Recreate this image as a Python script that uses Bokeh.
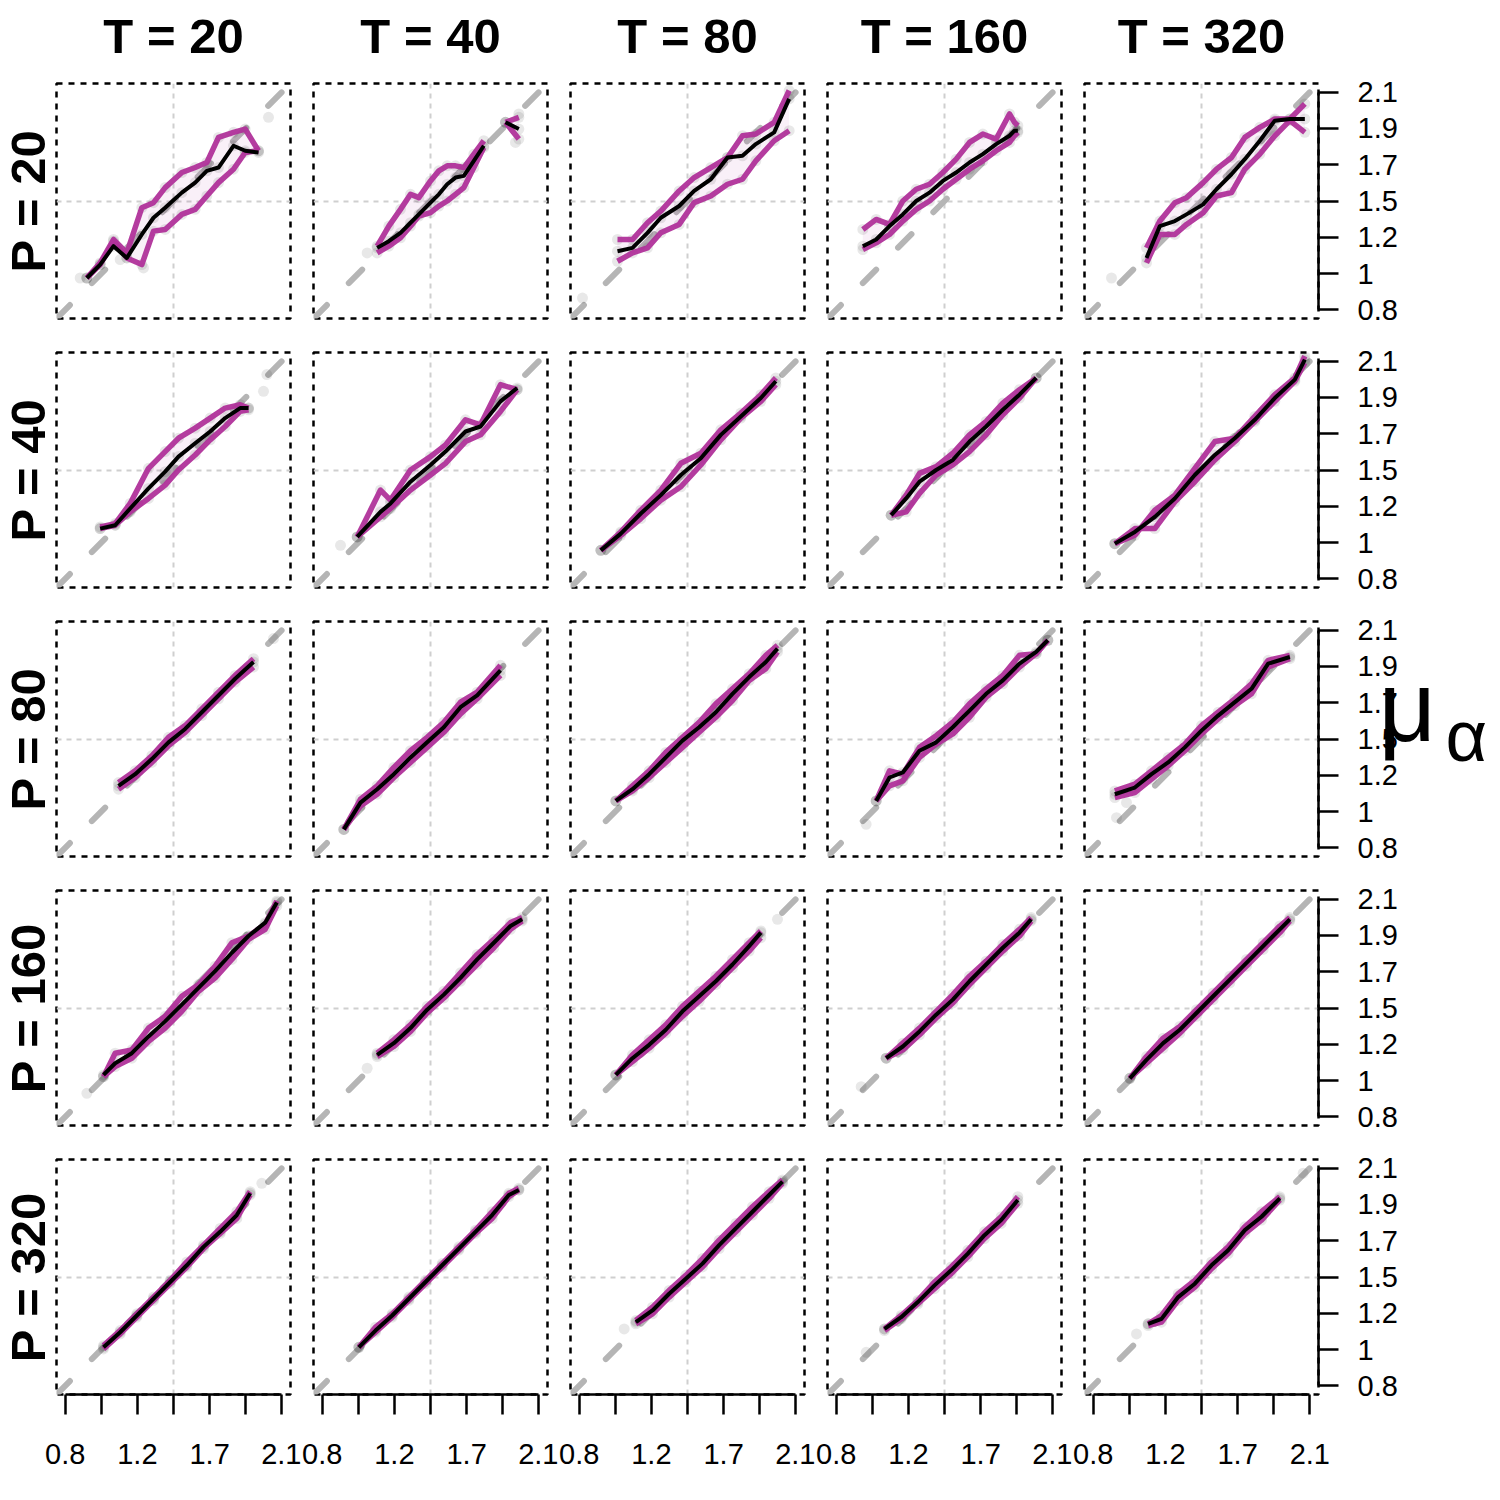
import math
from bokeh.plotting import figure
from bokeh.models import Range1d, LinearAxis, FixedTicker, Slope, GridBox
from bokeh.core.properties import value
from bokeh.embed import file_html
from bokeh.resources import INLINE

NAN = float("nan")

# ---------------- labels / ticks ----------------
T_LABELS = ["T = 20", "T = 40", "T = 80", "T = 160", "T = 320"]
P_LABELS = ["P = 20", "P = 40", "P = 80", "P = 160", "P = 320"]
AXIS_TICKS = [0.8, 0.8 + 1.3 / 6, 0.8 + 2.6 / 6, 1.45, 0.8 + 5.2 / 6, 0.8 + 6.5 / 6, 2.1]
Y_TICK_LABELS = ["0.8", "1", "1.2", "1.5", "1.7", "1.9", "2.1"]
X_TICK_LABELS = ["0.8", "", "1.2", "", "1.7", "", "2.1"]
GRID_AT = [1.45]
AXIS_SYMBOL = "μ"
AXIS_SUBSCRIPT = "α"

# ---------------- data: P = 20 ----------------
X_P20_T20 = [0.93, 1.01, 1.09, 1.17, 1.26, 1.33, 1.40, 1.50, 1.58, 1.65, 1.72, 1.81, 1.88, 1.96]
HI_P20_T20 = [0.99, 1.08, 1.22, 1.14, 1.41, 1.44, 1.53, 1.62, 1.65, 1.68, 1.83, 1.86, 1.88, 1.75]
MED_P20_T20 = [0.99, 1.07, 1.18, 1.11, 1.25, 1.35, 1.41, 1.50, 1.56, 1.63, 1.65, 1.78, 1.75, 1.74]
LO_P20_T20 = [0.99, 1.07, 1.21, 1.11, 1.07, 1.27, 1.28, 1.37, 1.40, 1.48, 1.56, 1.64, 1.74, 1.75]
PX_P20_T20 = [0.89, 2.02, 1.27, 1.13]
PY_P20_T20 = [0.99, 1.95, 1.05, 1.10]

X_P20_T40 = [1.13, 1.20, 1.27, 1.33, 1.38, 1.45, 1.50, 1.55, 1.60, 1.65, 1.71, 1.77, NAN, 1.90, 1.98]
HI_P20_T40 = [1.18, 1.30, 1.40, 1.49, 1.47, 1.57, 1.63, 1.66, 1.66, 1.65, 1.73, 1.81, NAN, 1.92, 1.95]
MED_P20_T40 = [1.17, 1.21, 1.26, 1.32, 1.37, 1.44, 1.49, 1.55, 1.59, 1.60, 1.69, 1.78, NAN, 1.92, 1.88]
LO_P20_T40 = [1.14, 1.18, 1.23, 1.30, 1.36, 1.38, 1.42, 1.45, 1.49, 1.53, 1.65, 1.77, NAN, 1.92, 1.82]
PX_P20_T40 = [1.07, 1.98, 1.96]
PY_P20_T40 = [1.14, 1.97, 1.80]

X_P20_T80 = [1.03, 1.12, 1.21, 1.29, 1.40, 1.49, 1.59, 1.69, 1.78, 1.86, 1.97, 2.06]
HI_P20_T80 = [1.22, 1.22, 1.32, 1.39, 1.51, 1.59, 1.65, 1.71, 1.84, 1.85, 1.92, 2.11]
MED_P20_T80 = [1.15, 1.17, 1.26, 1.35, 1.42, 1.51, 1.58, 1.71, 1.72, 1.79, 1.86, 2.06]
LO_P20_T80 = [1.09, 1.14, 1.17, 1.26, 1.31, 1.44, 1.48, 1.55, 1.58, 1.69, 1.81, 1.87]
PX_P20_T80 = [0.82]
PY_P20_T80 = [0.87]

X_P20_T160 = [0.96, 1.04, 1.12, 1.20, 1.28, 1.36, 1.44, 1.52, 1.60, 1.68, 1.76, 1.84, 1.87, 1.89]
HI_P20_T160 = [1.28, 1.34, 1.31, 1.45, 1.52, 1.55, 1.62, 1.70, 1.80, 1.85, 1.82, 1.97, 1.92, 1.90]
MED_P20_T160 = [1.18, 1.22, 1.30, 1.37, 1.45, 1.50, 1.57, 1.62, 1.68, 1.73, 1.79, 1.84, 1.87, 1.87]
LO_P20_T160 = [1.16, 1.20, 1.25, 1.33, 1.40, 1.45, 1.52, 1.58, 1.64, 1.69, 1.75, 1.80, 1.84, 1.86]
PX_P20_T160 = []
PY_P20_T160 = []

X_P20_T320 = [1.12, 1.20, 1.29, 1.36, 1.46, 1.54, 1.63, 1.71, 1.80, 1.89, 1.98, 2.07]
HI_P20_T320 = [1.17, 1.33, 1.44, 1.47, 1.56, 1.64, 1.71, 1.83, 1.89, 1.94, 1.94, 2.03]
MED_P20_T320 = [1.11, 1.30, 1.33, 1.37, 1.43, 1.52, 1.61, 1.70, 1.81, 1.93, 1.94, 1.94]
LO_P20_T320 = [1.08, 1.25, 1.25, 1.31, 1.38, 1.48, 1.50, 1.64, 1.73, 1.84, 1.93, 1.86]
PX_P20_T320 = [0.91]
PY_P20_T320 = [0.99]

# ---------------- data: P = 40 ----------------
X_P40_T20 = [1.01, 1.10, 1.19, 1.30, 1.40, 1.48, 1.58, 1.67, 1.76, 1.85, 1.90]
HI_P40_T20 = [1.11, 1.13, 1.25, 1.46, 1.56, 1.64, 1.70, 1.76, 1.82, 1.84, 1.82]
MED_P40_T20 = [1.10, 1.12, 1.22, 1.34, 1.44, 1.53, 1.61, 1.68, 1.76, 1.82, 1.82]
LO_P40_T20 = [1.10, 1.12, 1.20, 1.28, 1.36, 1.45, 1.54, 1.63, 1.71, 1.80, 1.81]
PX_P40_T20 = [2.01, 1.99]
PY_P40_T20 = [2.02, 1.92]

X_P40_T40 = [1.01, 1.15, 1.21, 1.33, 1.45, 1.54, 1.66, 1.75, 1.87, 1.97]
HI_P40_T40 = [1.05, 1.33, 1.27, 1.45, 1.53, 1.60, 1.75, 1.72, 1.96, 1.93]
MED_P40_T40 = [1.05, 1.20, 1.25, 1.38, 1.48, 1.56, 1.68, 1.71, 1.86, 1.94]
LO_P40_T40 = [1.05, 1.17, 1.22, 1.33, 1.42, 1.49, 1.62, 1.66, 1.80, 1.93]
PX_P40_T40 = [0.91]
PY_P40_T40 = [1.00]

X_P40_T80 = [0.93, 1.05, 1.17, 1.29, 1.41, 1.53, 1.65, 1.77, 1.89, 1.98]
HI_P40_T80 = [0.97, 1.08, 1.21, 1.33, 1.49, 1.55, 1.69, 1.79, 1.90, 2.00]
MED_P40_T80 = [0.97, 1.07, 1.19, 1.30, 1.42, 1.52, 1.66, 1.77, 1.88, 1.98]
LO_P40_T80 = [0.97, 1.06, 1.16, 1.27, 1.35, 1.48, 1.63, 1.76, 1.86, 1.96]
PX_P40_T80 = []
PY_P40_T80 = []

X_P40_T160 = [1.13, 1.22, 1.30, 1.40, 1.50, 1.60, 1.70, 1.80, 1.90, 2.00]
HI_P40_T160 = [1.18, 1.30, 1.43, 1.47, 1.55, 1.66, 1.74, 1.85, 1.93, 2.00]
MED_P40_T160 = [1.18, 1.28, 1.38, 1.45, 1.51, 1.62, 1.71, 1.81, 1.90, 2.00]
LO_P40_T160 = [1.18, 1.20, 1.31, 1.42, 1.48, 1.56, 1.66, 1.78, 1.88, 2.00]
PX_P40_T160 = []
PY_P40_T160 = []

X_P40_T320 = [0.93, 1.05, 1.17, 1.29, 1.41, 1.53, 1.65, 1.77, 1.89, 2.01, 2.07]
HI_P40_T320 = [1.01, 1.06, 1.21, 1.30, 1.46, 1.62, 1.64, 1.77, 1.90, 2.00, 2.13]
MED_P40_T320 = [1.01, 1.08, 1.17, 1.28, 1.42, 1.54, 1.64, 1.75, 1.88, 1.99, 2.11]
LO_P40_T320 = [1.01, 1.10, 1.10, 1.26, 1.38, 1.51, 1.62, 1.74, 1.86, 1.98, 2.09]
PX_P40_T320 = []
PY_P40_T320 = []

# ---------------- data: P = 80 ----------------
X_P80_T20 = [1.12, 1.22, 1.32, 1.42, 1.52, 1.62, 1.72, 1.82, 1.93]
HI_P80_T20 = [1.19, 1.26, 1.35, 1.46, 1.53, 1.63, 1.73, 1.83, 1.93]
MED_P80_T20 = [1.17, 1.24, 1.33, 1.43, 1.51, 1.61, 1.71, 1.81, 1.91]
LO_P80_T20 = [1.15, 1.22, 1.31, 1.41, 1.49, 1.59, 1.69, 1.79, 1.88]
PX_P80_T20 = [2.05]
PY_P80_T20 = [2.05]

X_P80_T40 = [0.93, 1.03, 1.13, 1.23, 1.33, 1.43, 1.53, 1.63, 1.73, 1.87]
HI_P80_T40 = [0.91, 1.09, 1.17, 1.28, 1.38, 1.46, 1.55, 1.67, 1.73, 1.89]
MED_P80_T40 = [0.91, 1.07, 1.15, 1.24, 1.34, 1.43, 1.52, 1.64, 1.71, 1.86]
LO_P80_T40 = [0.91, 1.05, 1.12, 1.22, 1.31, 1.40, 1.49, 1.60, 1.69, 1.83]
PX_P80_T40 = []
PY_P80_T40 = []

X_P80_T80 = [1.02, 1.12, 1.22, 1.32, 1.42, 1.52, 1.62, 1.72, 1.82, 1.92, 1.99]
HI_P80_T80 = [1.08, 1.17, 1.26, 1.37, 1.46, 1.55, 1.66, 1.75, 1.84, 1.95, 2.01]
MED_P80_T80 = [1.08, 1.15, 1.24, 1.34, 1.44, 1.52, 1.61, 1.72, 1.82, 1.91, 1.99]
LO_P80_T80 = [1.08, 1.14, 1.22, 1.31, 1.40, 1.49, 1.58, 1.68, 1.80, 1.87, 1.97]
PX_P80_T80 = []
PY_P80_T80 = []

X_P80_T160 = [1.04, 1.12, 1.20, 1.30, 1.40, 1.50, 1.60, 1.70, 1.80, 1.90, 2.00, 2.07]
HI_P80_T160 = [1.08, 1.26, 1.24, 1.40, 1.47, 1.55, 1.66, 1.75, 1.83, 1.95, 1.96, 2.04]
MED_P80_T160 = [1.08, 1.22, 1.25, 1.38, 1.43, 1.52, 1.62, 1.72, 1.80, 1.90, 1.97, 2.04]
LO_P80_T160 = [1.08, 1.17, 1.20, 1.34, 1.42, 1.48, 1.58, 1.70, 1.78, 1.88, 1.96, 2.04]
PX_P80_T160 = [0.98]
PY_P80_T160 = [0.94]

X_P80_T320 = [0.93, 1.05, 1.15, 1.25, 1.35, 1.45, 1.55, 1.65, 1.75, 1.85, 1.98]
HI_P80_T320 = [1.14, 1.18, 1.26, 1.34, 1.42, 1.53, 1.61, 1.69, 1.78, 1.92, 1.95]
MED_P80_T320 = [1.12, 1.16, 1.24, 1.31, 1.40, 1.50, 1.59, 1.67, 1.75, 1.90, 1.94]
LO_P80_T320 = [1.10, 1.13, 1.21, 1.29, 1.38, 1.48, 1.57, 1.65, 1.72, 1.88, 1.93]
PX_P80_T320 = [0.94, 1.00]
PY_P80_T320 = [0.98, 1.07]

# ---------------- data: P = 160 ----------------
X_P160_T20 = [1.03, 1.10, 1.20, 1.30, 1.40, 1.50, 1.60, 1.70, 1.80, 1.90, 2.00, 2.07]
HI_P160_T20 = [1.04, 1.18, 1.20, 1.33, 1.40, 1.52, 1.59, 1.70, 1.84, 1.88, 1.95, 2.09]
MED_P160_T20 = [1.05, 1.12, 1.18, 1.28, 1.37, 1.47, 1.57, 1.67, 1.78, 1.88, 1.96, 2.08]
LO_P160_T20 = [1.04, 1.10, 1.15, 1.25, 1.33, 1.43, 1.55, 1.63, 1.74, 1.86, 1.92, 2.06]
PX_P160_T20 = [0.93]
PY_P160_T20 = [0.94]

X_P160_T40 = [1.13, 1.23, 1.33, 1.43, 1.53, 1.63, 1.73, 1.83, 1.93, 2.00]
HI_P160_T40 = [1.18, 1.26, 1.35, 1.46, 1.55, 1.66, 1.77, 1.86, 1.96, 1.99]
MED_P160_T40 = [1.17, 1.24, 1.33, 1.44, 1.53, 1.63, 1.74, 1.84, 1.94, 1.98]
LO_P160_T40 = [1.16, 1.22, 1.31, 1.42, 1.51, 1.61, 1.71, 1.81, 1.92, 1.97]
PX_P160_T40 = [1.07]
PY_P160_T40 = [1.09]

X_P160_T80 = [1.02, 1.12, 1.22, 1.32, 1.42, 1.52, 1.62, 1.72, 1.82, 1.89]
HI_P160_T80 = [1.05, 1.17, 1.26, 1.35, 1.46, 1.55, 1.64, 1.74, 1.84, 1.91]
MED_P160_T80 = [1.05, 1.15, 1.23, 1.32, 1.43, 1.52, 1.61, 1.71, 1.82, 1.90]
LO_P160_T80 = [1.05, 1.13, 1.21, 1.30, 1.40, 1.49, 1.59, 1.69, 1.79, 1.87]
PX_P160_T80 = [1.99]
PY_P160_T80 = [1.98]

X_P160_T160 = [1.10, 1.20, 1.30, 1.40, 1.50, 1.60, 1.70, 1.80, 1.90, 1.97]
HI_P160_T160 = [1.15, 1.24, 1.33, 1.43, 1.53, 1.64, 1.73, 1.83, 1.92, 1.99]
MED_P160_T160 = [1.15, 1.22, 1.31, 1.41, 1.50, 1.61, 1.71, 1.81, 1.90, 1.98]
LO_P160_T160 = [1.15, 1.20, 1.29, 1.39, 1.48, 1.59, 1.69, 1.79, 1.88, 1.97]
PX_P160_T160 = [0.95]
PY_P160_T160 = [0.98]

X_P160_T320 = [1.02, 1.12, 1.22, 1.32, 1.42, 1.52, 1.62, 1.72, 1.82, 1.92, 1.98]
HI_P160_T320 = [1.03, 1.16, 1.27, 1.34, 1.44, 1.54, 1.64, 1.74, 1.84, 1.94, 1.99]
MED_P160_T320 = [1.03, 1.14, 1.24, 1.32, 1.42, 1.52, 1.62, 1.72, 1.82, 1.92, 1.98]
LO_P160_T320 = [1.03, 1.12, 1.21, 1.30, 1.40, 1.50, 1.60, 1.70, 1.80, 1.90, 1.97]
PX_P160_T320 = []
PY_P160_T320 = []

# ---------------- data: P = 320 ----------------
X_P320_T20 = [1.03, 1.13, 1.23, 1.33, 1.43, 1.53, 1.63, 1.73, 1.83, 1.91]
HI_P320_T20 = [1.04, 1.13, 1.23, 1.33, 1.43, 1.54, 1.64, 1.74, 1.84, 1.96]
MED_P320_T20 = [1.03, 1.12, 1.22, 1.32, 1.42, 1.52, 1.63, 1.72, 1.82, 1.95]
LO_P320_T20 = [1.02, 1.11, 1.21, 1.31, 1.41, 1.51, 1.62, 1.71, 1.80, 1.94]
PX_P320_T20 = [1.98]
PY_P320_T20 = [2.01]

X_P320_T40 = [1.02, 1.12, 1.22, 1.32, 1.42, 1.52, 1.62, 1.72, 1.82, 1.92, 1.98]
HI_P320_T40 = [1.03, 1.15, 1.23, 1.33, 1.43, 1.53, 1.63, 1.73, 1.84, 1.95, 1.98]
MED_P320_T40 = [1.03, 1.13, 1.22, 1.32, 1.42, 1.52, 1.62, 1.72, 1.82, 1.94, 1.97]
LO_P320_T40 = [1.03, 1.12, 1.21, 1.31, 1.41, 1.51, 1.61, 1.71, 1.80, 1.93, 1.97]
PX_P320_T40 = []
PY_P320_T40 = []

X_P320_T80 = [1.14, 1.24, 1.34, 1.44, 1.54, 1.64, 1.74, 1.84, 1.94, 2.02]
HI_P320_T80 = [1.19, 1.27, 1.37, 1.46, 1.56, 1.67, 1.77, 1.87, 1.96, 2.03]
MED_P320_T80 = [1.18, 1.25, 1.35, 1.44, 1.53, 1.64, 1.74, 1.84, 1.94, 2.02]
LO_P320_T80 = [1.17, 1.23, 1.33, 1.42, 1.51, 1.62, 1.72, 1.82, 1.92, 2.01]
PX_P320_T80 = [1.07]
PY_P320_T80 = [1.14]

X_P320_T160 = [1.09, 1.19, 1.29, 1.39, 1.49, 1.59, 1.69, 1.79, 1.89]
HI_P320_T160 = [1.14, 1.22, 1.31, 1.42, 1.51, 1.61, 1.72, 1.81, 1.93]
MED_P320_T160 = [1.14, 1.21, 1.30, 1.40, 1.49, 1.59, 1.70, 1.79, 1.91]
LO_P320_T160 = [1.13, 1.20, 1.29, 1.38, 1.47, 1.57, 1.68, 1.77, 1.89]
PX_P320_T160 = [0.98]
PY_P320_T160 = [1.00]

X_P320_T320 = [1.13, 1.21, 1.31, 1.41, 1.51, 1.61, 1.71, 1.81, 1.92]
HI_P320_T320 = [1.17, 1.22, 1.35, 1.43, 1.54, 1.63, 1.75, 1.84, 1.93]
MED_P320_T320 = [1.17, 1.20, 1.33, 1.41, 1.52, 1.61, 1.73, 1.81, 1.92]
LO_P320_T320 = [1.16, 1.18, 1.31, 1.39, 1.50, 1.59, 1.71, 1.79, 1.91]
PX_P320_T320 = [1.06, 2.06]
PY_P320_T320 = [1.11, 2.07]

PANELS = [
    [(X_P20_T20, MED_P20_T20, LO_P20_T20, HI_P20_T20, PX_P20_T20, PY_P20_T20),
     (X_P20_T40, MED_P20_T40, LO_P20_T40, HI_P20_T40, PX_P20_T40, PY_P20_T40),
     (X_P20_T80, MED_P20_T80, LO_P20_T80, HI_P20_T80, PX_P20_T80, PY_P20_T80),
     (X_P20_T160, MED_P20_T160, LO_P20_T160, HI_P20_T160, PX_P20_T160, PY_P20_T160),
     (X_P20_T320, MED_P20_T320, LO_P20_T320, HI_P20_T320, PX_P20_T320, PY_P20_T320)],
    [(X_P40_T20, MED_P40_T20, LO_P40_T20, HI_P40_T20, PX_P40_T20, PY_P40_T20),
     (X_P40_T40, MED_P40_T40, LO_P40_T40, HI_P40_T40, PX_P40_T40, PY_P40_T40),
     (X_P40_T80, MED_P40_T80, LO_P40_T80, HI_P40_T80, PX_P40_T80, PY_P40_T80),
     (X_P40_T160, MED_P40_T160, LO_P40_T160, HI_P40_T160, PX_P40_T160, PY_P40_T160),
     (X_P40_T320, MED_P40_T320, LO_P40_T320, HI_P40_T320, PX_P40_T320, PY_P40_T320)],
    [(X_P80_T20, MED_P80_T20, LO_P80_T20, HI_P80_T20, PX_P80_T20, PY_P80_T20),
     (X_P80_T40, MED_P80_T40, LO_P80_T40, HI_P80_T40, PX_P80_T40, PY_P80_T40),
     (X_P80_T80, MED_P80_T80, LO_P80_T80, HI_P80_T80, PX_P80_T80, PY_P80_T80),
     (X_P80_T160, MED_P80_T160, LO_P80_T160, HI_P80_T160, PX_P80_T160, PY_P80_T160),
     (X_P80_T320, MED_P80_T320, LO_P80_T320, HI_P80_T320, PX_P80_T320, PY_P80_T320)],
    [(X_P160_T20, MED_P160_T20, LO_P160_T20, HI_P160_T20, PX_P160_T20, PY_P160_T20),
     (X_P160_T40, MED_P160_T40, LO_P160_T40, HI_P160_T40, PX_P160_T40, PY_P160_T40),
     (X_P160_T80, MED_P160_T80, LO_P160_T80, HI_P160_T80, PX_P160_T80, PY_P160_T80),
     (X_P160_T160, MED_P160_T160, LO_P160_T160, HI_P160_T160, PX_P160_T160, PY_P160_T160),
     (X_P160_T320, MED_P160_T320, LO_P160_T320, HI_P160_T320, PX_P160_T320, PY_P160_T320)],
    [(X_P320_T20, MED_P320_T20, LO_P320_T20, HI_P320_T20, PX_P320_T20, PY_P320_T20),
     (X_P320_T40, MED_P320_T40, LO_P320_T40, HI_P320_T40, PX_P320_T40, PY_P320_T40),
     (X_P320_T80, MED_P320_T80, LO_P320_T80, HI_P320_T80, PX_P320_T80, PY_P320_T80),
     (X_P320_T160, MED_P320_T160, LO_P320_T160, HI_P320_T160, PX_P320_T160, PY_P320_T160),
     (X_P320_T320, MED_P320_T320, LO_P320_T320, HI_P320_T320, PX_P320_T320, PY_P320_T320)],
]

# ---------------- layout / style ----------------
CANVAS = 1500
AX_MIN, AX_MAX = 0.748, 2.152
PANEL_W, PANEL_H = 234, 235
COL_LEFT = [56, 12, 12, 12, 12]
COL_RIGHT = [11, 11, 11, 11, 182]
ROW_TOP = [83, 17, 17, 17, 17]
ROW_BOTTOM = [17, 17, 17, 17, 106]
MAGENTA = "#B0319A"
FONT = "Liberation Sans"

COL_W = [COL_LEFT[i] + PANEL_W + COL_RIGHT[i] for i in range(5)]
ROW_H = [ROW_TOP[i] + PANEL_H + ROW_BOTTOM[i] for i in range(5)]
PANEL_X0 = [sum(COL_W[:i]) + COL_LEFT[i] for i in range(5)]
PANEL_Y0 = [sum(ROW_H[:i]) + ROW_TOP[i] for i in range(5)]

# text anchor positions on the page (pixels from the top-left corner)
TITLE_ANCHOR_Y = 35
ROW_LABEL_ANCHOR_X = 27
SYMBOL_ANCHOR = (1378, 705)
SUBSCRIPT_ANCHOR = (1445, 735)


def segments(xs, a, b):
    out, cur = [], ([], [], [])
    for xv, av, bv in zip(xs, a, b):
        if any(math.isnan(v) for v in (xv, av, bv)):
            if cur[0]:
                out.append(cur)
            cur = ([], [], [])
        else:
            cur[0].append(xv); cur[1].append(av); cur[2].append(bv)
    if cur[0]:
        out.append(cur)
    return out


def style_axis(ax, standoff):
    ax.axis_line_color = "black"
    ax.axis_line_width = 2.5
    ax.major_tick_line_color = "black"
    ax.major_tick_line_width = 2.5
    ax.major_tick_out = 20
    ax.major_tick_in = 0
    ax.minor_tick_out = 0
    ax.minor_tick_in = 0
    ax.major_label_standoff = standoff
    ax.major_label_text_font = FONT
    ax.major_label_text_font_size = "29px"
    ax.major_label_text_color = "black"


def make_panel(r, c):
    xs, med, lo, hi, px, py = PANELS[r][c]
    p = figure(width=COL_W[c], height=ROW_H[r],
               x_range=Range1d(AX_MIN, AX_MAX), y_range=Range1d(AX_MIN, AX_MAX),
               output_backend="svg", toolbar_location=None,
               x_axis_location=None, y_axis_location=None,
               min_border_left=COL_LEFT[c], min_border_right=COL_RIGHT[c],
               min_border_top=ROW_TOP[r], min_border_bottom=ROW_BOTTOM[r])
    p.background_fill_color = "white"
    p.border_fill_color = "white"
    p.outline_line_color = "black"
    p.outline_line_width = 2.5
    p.outline_line_dash = "6 6"
    for g in (p.xgrid, p.ygrid):
        g.ticker = FixedTicker(ticks=GRID_AT)
        g.grid_line_color = "#cfcfcf"
        g.grid_line_width = 2
        g.grid_line_dash = "5 5"

    p.add_layout(Slope(gradient=1, y_intercept=0, line_color="#b5b5b5", line_width=6,
                       line_dash="19 31", line_cap="round", level="underlay"))

    for sx, sl, sh in segments(xs, lo, hi):
        p.varea(x=sx, y1=sl, y2=sh, fill_color=MAGENTA, fill_alpha=0.07)

    ptx, pty = [], []
    for arr in (med, lo, hi):
        for xv, yv in zip(xs, arr):
            if not (math.isnan(xv) or math.isnan(yv)):
                ptx.append(xv); pty.append(yv)
    ptx += list(px); pty += list(py)
    p.scatter(ptx, pty, size=11, fill_color="black", fill_alpha=0.09, line_color=None)

    p.line(xs, hi, line_color=MAGENTA, line_width=5.5, line_alpha=0.95, line_join="round")
    p.line(xs, lo, line_color=MAGENTA, line_width=5.5, line_alpha=0.95, line_join="round")
    p.line(xs, med, line_color="black", line_width=4, line_join="round")

    if c == 4:
        ax = LinearAxis(ticker=FixedTicker(ticks=AXIS_TICKS), bounds=(0.8, 2.1),
                        major_label_overrides={t: l for t, l in zip(AXIS_TICKS, Y_TICK_LABELS)})
        style_axis(ax, 19)
        p.add_layout(ax, "right")
    if r == 4:
        ax = LinearAxis(ticker=FixedTicker(ticks=AXIS_TICKS), bounds=(0.8, 2.1),
                        major_label_overrides={t: l for t, l in zip(AXIS_TICKS, X_TICK_LABELS)})
        style_axis(ax, 29)
        p.add_layout(ax, "below")
    return p


def make_overlay():
    # transparent page-sized canvas that carries the outer titles
    o = figure(width=CANVAS, height=CANVAS, x_range=Range1d(0, CANVAS), y_range=Range1d(0, CANVAS),
               output_backend="svg", toolbar_location=None,
               x_axis_location=None, y_axis_location=None,
               min_border=0, min_border_left=0, min_border_right=0,
               min_border_top=0, min_border_bottom=0)
    try:
        o.frame_align = False
    except AttributeError:
        pass
    o.xgrid.visible = False
    o.ygrid.visible = False
    o.background_fill_color = None
    o.border_fill_color = None
    o.outline_line_color = None

    o.text(x=[x0 + PANEL_W / 2 for x0 in PANEL_X0], y=[CANVAS - TITLE_ANCHOR_Y] * 5, text=T_LABELS,
           text_align="center", text_baseline="alphabetic",
           text_font=value(FONT), text_font_style="bold", text_font_size=value("49px"),
           text_color="black")
    o.text(x=[ROW_LABEL_ANCHOR_X] * 5, y=[CANVAS - (y0 + PANEL_H / 2) for y0 in PANEL_Y0], text=P_LABELS,
           angle=math.pi / 2, text_align="center", text_baseline="alphabetic",
           text_font=value(FONT), text_font_style="bold", text_font_size=value("49px"),
           text_color="black")
    o.text(x=[SYMBOL_ANCHOR[0]], y=[CANVAS - SYMBOL_ANCHOR[1]], text=[AXIS_SYMBOL], text_align="left",
           text_baseline="alphabetic", text_font=value(FONT), text_font_size=value("100px"),
           text_color="black")
    o.text(x=[SUBSCRIPT_ANCHOR[0]], y=[CANVAS - SUBSCRIPT_ANCHOR[1]], text=[AXIS_SUBSCRIPT],
           text_align="left", text_baseline="alphabetic", text_font=value(FONT),
           text_font_size=value("72px"), text_color="black")
    return o


children = []
for r in range(5):
    for c in range(5):
        children.append((make_panel(r, c), r, c))
children.append((make_overlay(), 0, 0, 5, 5))
layout = GridBox(children=children, spacing=0)

open("out.html", "w").write(file_html(layout, INLINE))
